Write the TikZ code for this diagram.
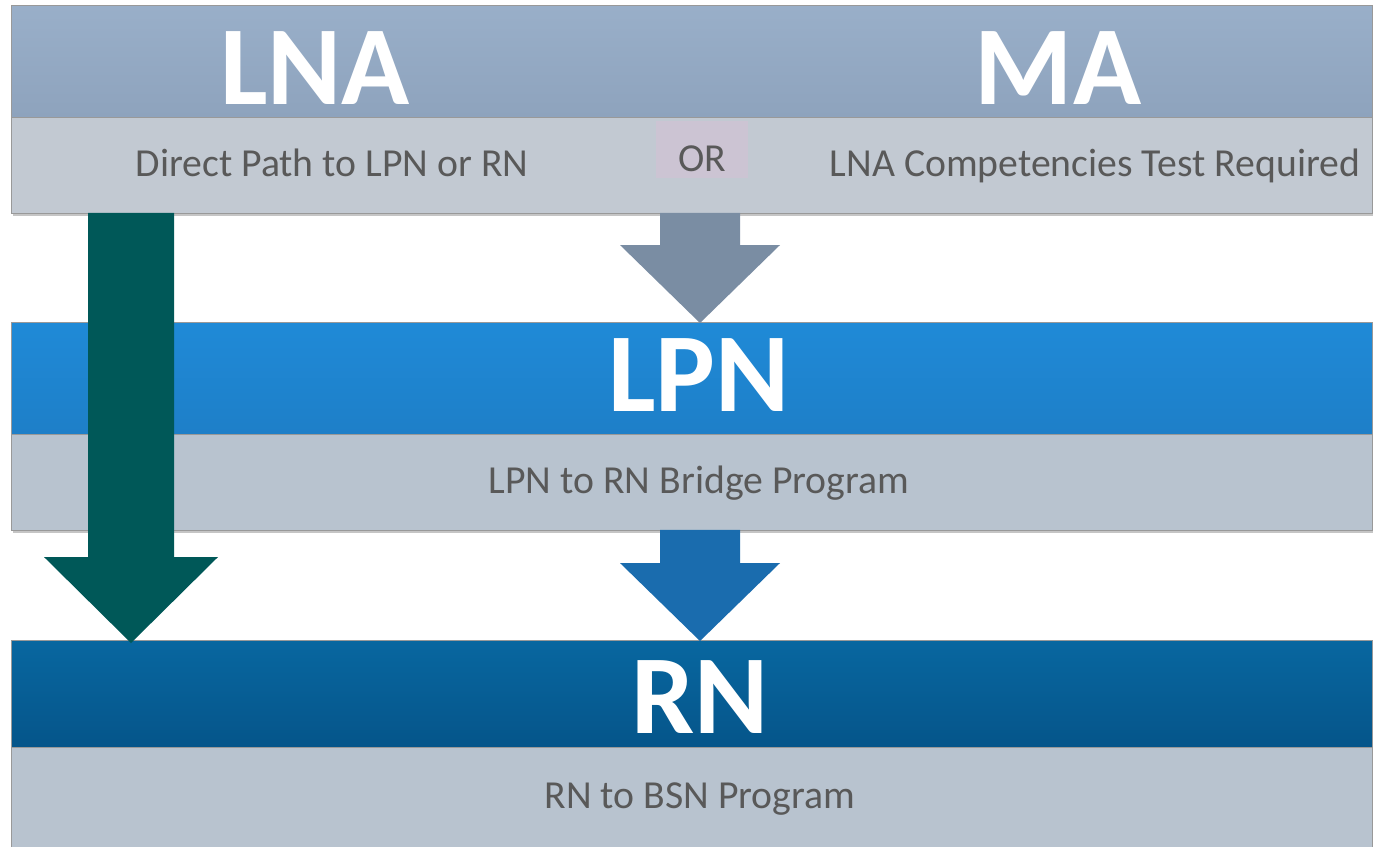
\documentclass[tikz,border=0pt]{standalone}
\usepackage{fontspec}
\setmainfont{Carlito}
\usetikzlibrary{positioning, calc, shadows}
\definecolor{lnatop}{RGB}{153,175,201}
\definecolor{lnabot}{RGB}{142,163,189}
\definecolor{lnasub}{RGB}{194,201,210}
\definecolor{lpntop}{RGB}{31,138,215}
\definecolor{lpnbot}{RGB}{30,127,200}
\definecolor{rntop}{RGB}{8,103,160}
\definecolor{rnbot}{RGB}{5,85,138}
\definecolor{lowsub}{RGB}{184,195,207}
\definecolor{greenarrow}{RGB}{0,88,88}
\definecolor{grayarrow}{RGB}{122,141,163}
\definecolor{bluearrow}{RGB}{26,108,174}
\definecolor{orfill}{RGB}{204,196,211}
\definecolor{textgray}{RGB}{89,89,89}
\tikzstyle{bar} = [rectangle, minimum width=27.24cm, inner sep=0pt, outer sep=0pt, draw=black!40, line width=0.5pt]
\tikzstyle{headbar} = [bar, minimum height=2.24cm]
\tikzstyle{subbar} = [bar, minimum height=1.92cm, drop shadow={shadow xshift=1pt, shadow yshift=-2pt, opacity=0.45}]
\tikzstyle{title} = [anchor=base, text=white, font=\fontsize{64}{70}\selectfont\bfseries]
\tikzstyle{caption} = [anchor=base, text=textgray, font=\fontsize{22.6}{26}\selectfont]

\begin{document}
\begin{tikzpicture}[x=0.02cm, y=-0.02cm, node distance=0pt]
\useasboundingbox (0,0) rectangle (1373,847);
\fill[white] (0,0) rectangle (1373,847);

% Bands
\node[subbar, fill=lnasub, anchor=north] (topsub) at (692,117) {};
\node[headbar, top color=lnatop, bottom color=lnabot, above=of topsub] (tophead) {};
\node[subbar, fill=lowsub, anchor=north] (lpnsub) at (692,434) {};
\node[headbar, top color=lpntop, bottom color=lpnbot, above=of lpnsub] (lpnhead) {};
\node[subbar, fill=lowsub, minimum height=2cm, anchor=north] (rnsub) at (692,747) {};
\node[headbar, top color=rntop, bottom color=rnbot, minimum height=2.14cm, above=of rnsub] (rnhead) {};

% Titles
\node[title] (lna) at (315,105) {LNA};
\node[title] (ma) at (1058,105) {MA};
\node[title] (lpn) at (699,412) {LPN};
\node[title] (rn) at (700,733) {RN};

% Captions
\node[caption] (direct) at (332,177) {Direct Path to LPN or RN};
\node[fill=orfill, minimum width=1.86cm, minimum height=1.14cm] (orbox) at (702,150) {};
\node[caption] (or) at (702,172) {OR};
\node[caption] (test) at (1095,177) {LNA Competencies Test Required};
\node[caption] (bridge) at (699,494) {LPN to RN Bridge Program};
\node[caption] (bsn) at (700,808) {RN to BSN Program};

% Arrows
\coordinate (gx) at (131,0);
\coordinate (ax) at (700,0);
\coordinate (gs) at (topsub.south -| gx);
\coordinate (gt) at (rnhead.north -| gx);
\fill[greenarrow] ($(gs)+(-43,0)$) -- ($(gt)+(-43,-83)$) -- ($(gt)+(-87,-83)$) -- ($(gt)+(0,3)$)
  -- ($(gt)+(87,-83)$) -- ($(gt)+(43,-83)$) -- ($(gs)+(43,0)$) -- cycle;

\coordinate (as) at (topsub.south -| ax);
\coordinate (at) at (lpnhead.north -| ax);
\fill[grayarrow] ($(as)+(-40,0)$) -- ($(at)+(-40,-77)$) -- ($(at)+(-80,-77)$) -- ($(at)+(0,1)$)
  -- ($(at)+(80,-77)$) -- ($(at)+(40,-77)$) -- ($(as)+(40,0)$) -- cycle;

\coordinate (bs) at (lpnsub.south -| ax);
\coordinate (bt) at (rnhead.north -| ax);
\fill[bluearrow] ($(bs)+(-40,0)$) -- ($(bt)+(-40,-77)$) -- ($(bt)+(-80,-77)$) -- ($(bt)+(0,1)$)
  -- ($(bt)+(80,-77)$) -- ($(bt)+(40,-77)$) -- ($(bs)+(40,0)$) -- cycle;

\end{tikzpicture}
\end{document}
